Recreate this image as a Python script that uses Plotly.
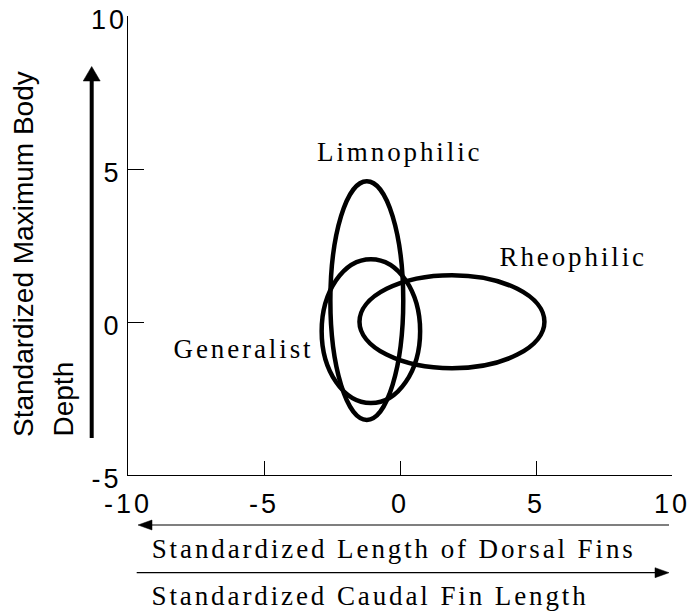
import plotly.graph_objects as go

# ---------------- data ----------------
groups = ["Limnophilic", "Generalist", "Rheophilic"]
center_x = [-1.22, -1.07, 1.91]
center_y = [0.70, -0.30, 0.01]
radius_x = [1.34, 1.81, 3.40]
radius_y = [3.90, 2.35, 1.52]

label_x = [0.0, -5.76, 6.35]
label_y = [5.55, -0.89, 2.11]

x_ticks = [-10, -5, 0, 5, 10]
x_tick_text = ["-10", "-5", "0", "5", "10"]
y_ticks = [-5, 0, 5, 10]
y_tick_text = ["-5", "0", "5", "10"]

y_title_lines = ["Standardized Maximum Body", "Depth"]
x_title_1 = "Standardized Length of Dorsal Fins"
x_title_2 = "Standardized Caudal Fin Length"

# ---------------- layout helpers ----------------
W, H = 692, 615
ML, MR, MT, MB = 128, 20, 16, 140
PW, PH = W - ML - MR, H - MT - MB


def px(xp):
    return (xp - ML) / PW


def py(yp):
    return (H - MB - yp) / PH


SANS = "Liberation Sans, Arial, sans-serif"
SERIF = "Liberation Serif, Times New Roman, serif"

fig = go.Figure()
fig.add_trace(go.Scatter(x=[None], y=[None], mode="markers", showlegend=False, hoverinfo="skip"))
fig.add_trace(go.Scatter(x=[None], y=[None], mode="markers", showlegend=False, hoverinfo="skip",
                         yaxis="y2"))

shapes = []
for cx, cy, rx, ry in zip(center_x, center_y, radius_x, radius_y):
    shapes.append(dict(type="circle", xref="x", yref="y",
                       x0=cx - rx, x1=cx + rx, y0=cy - ry, y1=cy + ry,
                       line=dict(color="black", width=4.5), fillcolor="rgba(0,0,0,0)"))

# vertical thick arrow (y direction)
ax_x = 91.7
shapes.append(dict(type="line", xref="paper", yref="paper",
                   x0=px(ax_x), x1=px(ax_x), y0=py(438), y1=py(78),
                   line=dict(color="black", width=4)))
shapes.append(dict(type="path", xref="paper", yref="paper",
                   path=f"M {px(ax_x-8.5)} {py(81)} L {px(ax_x+8.5)} {py(81)} L {px(ax_x)} {py(66.5)} Z",
                   fillcolor="black", line=dict(color="black", width=0.5)))

# left-pointing arrow
ya = 525
shapes.append(dict(type="line", xref="paper", yref="paper",
                   x0=px(148), x1=px(669), y0=py(ya), y1=py(ya),
                   line=dict(color="black", width=1.2)))
shapes.append(dict(type="path", xref="paper", yref="paper",
                   path=f"M {px(152)} {py(ya-5)} L {px(152)} {py(ya+5)} L {px(138)} {py(ya)} Z",
                   fillcolor="black", line=dict(color="black", width=0.5)))
# right-pointing arrow
yb = 572.7
shapes.append(dict(type="line", xref="paper", yref="paper",
                   x0=px(136.7), x1=px(660), y0=py(yb), y1=py(yb),
                   line=dict(color="black", width=1.2)))
shapes.append(dict(type="path", xref="paper", yref="paper",
                   path=f"M {px(655)} {py(yb-5)} L {px(655)} {py(yb+5)} L {px(669)} {py(yb)} Z",
                   fillcolor="black", line=dict(color="black", width=0.5)))

annotations = []
for name, lx, ly in zip(groups, label_x, label_y):
    annotations.append(dict(x=lx, y=ly, xref="x", yref="y", text=name, showarrow=False,
                            xanchor="center", yanchor="middle",
                            font=dict(family=SERIF, size=27, color="black")))

annotations.append(dict(x=px(393.5), y=py(549), xref="paper", yref="paper", text=x_title_1,
                        showarrow=False, xanchor="center", yanchor="middle", borderpad=0,
                        font=dict(family=SERIF, size=27, color="black")))
annotations.append(dict(x=px(370.5), y=py(596), xref="paper", yref="paper", text=x_title_2,
                        showarrow=False, xanchor="center", yanchor="middle", borderpad=0,
                        font=dict(family=SERIF, size=27, color="black")))
for line_text, cxp in zip(y_title_lines, [23, 63]):
    annotations.append(dict(x=px(cxp), y=py(438), xref="paper", yref="paper", text=line_text,
                            showarrow=False, textangle=-90,
                            xanchor="center", yanchor="bottom", borderpad=0,
                            font=dict(family=SANS, size=28, color="black")))

tick_font = dict(family=SANS, size=27, color="black")
fig.update_layout(
    template="none",
    width=W, height=H,
    margin=dict(l=ML, r=MR, t=MT, b=MB, pad=0, autoexpand=False),
    paper_bgcolor="white", plot_bgcolor="white",
    showlegend=False,
    shapes=shapes,
    annotations=annotations,
    xaxis=dict(range=[-10, 10], tickvals=x_ticks, ticktext=x_tick_text, automargin=False,
               showgrid=False, zeroline=False, showline=True, linecolor="black", linewidth=1.3,
               ticks="inside", ticklen=14, tickwidth=1.3, tickcolor="black",
               ticklabelstandoff=4, ticklabeloverflow="allow",
               tickfont=tick_font, fixedrange=True),
    # main y axis: ticks below the top value
    yaxis=dict(range=[-5, 10], tickvals=y_ticks[:-1], ticktext=y_tick_text[:-1], automargin=False,
               showgrid=False, zeroline=False, showline=True, linecolor="black", linewidth=1.3,
               ticks="inside", ticklen=16, tickwidth=1.3, tickcolor="black",
               ticklabelshift=4, ticklabeloverflow="allow",
               tickfont=tick_font, fixedrange=True),
    # top label (no tick mark at the top of the axis)
    yaxis2=dict(range=[-5, 10], overlaying="y", side="left", anchor="x",
                tickvals=y_ticks[-1:], ticktext=y_tick_text[-1:], automargin=False,
                showgrid=False, zeroline=False, showline=False, ticks="",
                ticklabelshift=4, ticklabeloverflow="allow",
                tickfont=tick_font, fixedrange=True),
)

post = """
document.documentElement.style.margin = '0';
document.documentElement.style.padding = '0';
document.body.style.margin = '0';
document.body.style.padding = '0';
document.body.style.overflow = 'hidden';
var gd = document.getElementById('{plot_id}');
function spacing(){
  gd.querySelectorAll('g.annotation text').forEach(function(t){
    var ff = (t.style.fontFamily || '') + (t.getAttribute('style') || '');
    if (ff.indexOf('Serif') >= 0) { t.style.letterSpacing = '2.9px'; }
  });
  gd.querySelectorAll('g.xtick text, g.ytick text, g.y2tick text').forEach(function(t){
    t.style.letterSpacing = '3px';
  });
}
spacing();
if (gd.on) { gd.on('plotly_afterplot', spacing); }
"""

fig.write_html("out.html", post_script=post, config={"displayModeBar": False})
